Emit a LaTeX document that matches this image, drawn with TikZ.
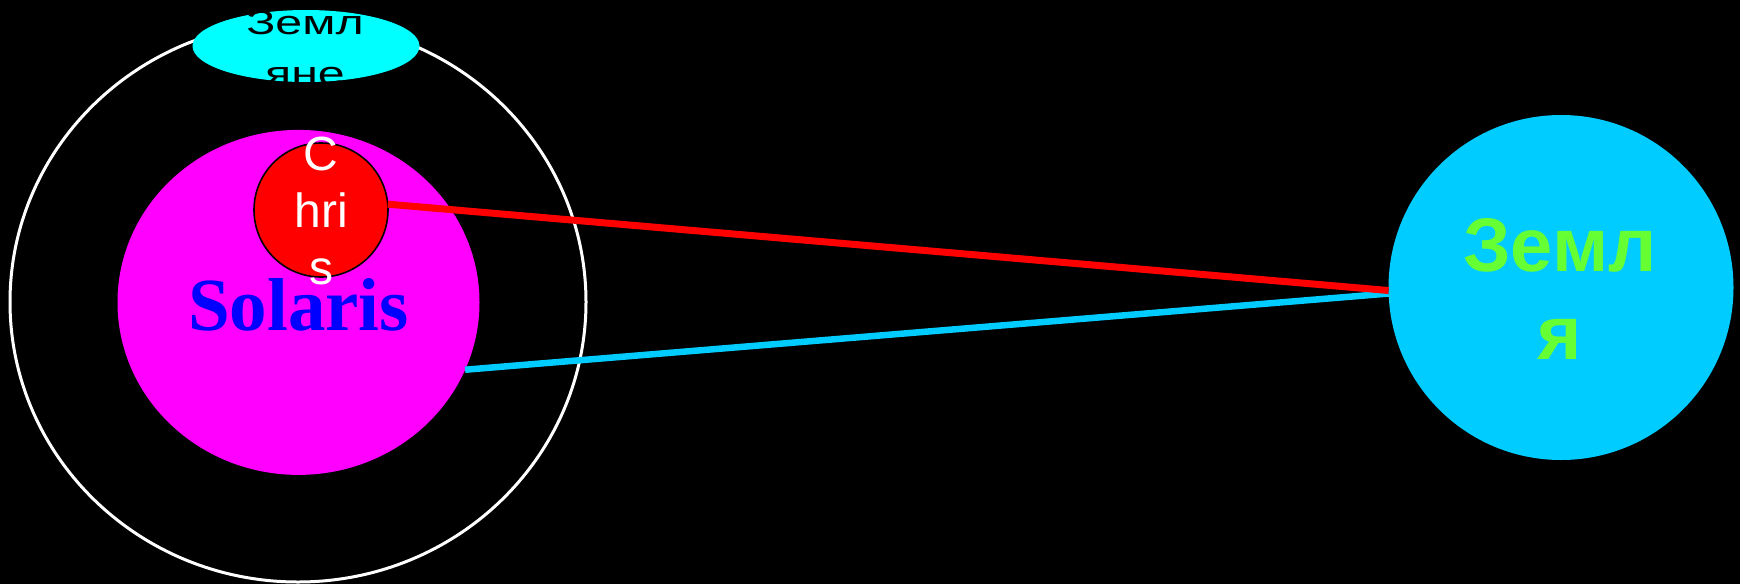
\documentclass[tikz,border=0pt]{standalone}
\usepackage{fontspec}
\setmainfont{Liberation Sans}
\newfontfamily\solfont{Liberation Serif}
\usetikzlibrary{shapes.geometric}
\definecolor{moonc}{HTML}{00FFFF}
\definecolor{solc}{HTML}{FF00FF}
\definecolor{chrisc}{HTML}{FF0000}
\definecolor{earthc}{HTML}{00CCFF}
\definecolor{earthtxt}{HTML}{66FF33}
\definecolor{soltxt}{HTML}{0000FF}
\newcommand{\stk}[2]{\vtop{\hbox to 0pt{\hss #1\hss}\hbox to 0pt{\hss #2\hss}}}
\newcommand{\stkk}[3]{\vtop{\hbox to 0pt{\hss #1\hss}\hbox to 0pt{\hss #2\hss}\hbox to 0pt{\hss #3\hss}}}
\begin{document}
\begin{tikzpicture}[x=1pt,y=-1pt,
  body/.style={inner sep=0pt,outer sep=0pt},
  lbl/.style={inner sep=0pt,outer sep=0pt,anchor=base}]
\fill[black] (0,0) rectangle (1740,584);
\useasboundingbox (0,0) rectangle (1740,584);
% orbit
\node[body,ellipse,draw=white,line width=3pt,minimum width=576pt,minimum height=560pt] (orbit) at (298,302) {};
% moon
\node[body,ellipse,fill=moonc,minimum width=227pt,minimum height=72pt] (moon) at (306,46) {};
\node[lbl,text=black,font=\fontsize{34}{51}\selectfont] (moonlbl) at (305,34) {\scalebox{1.42}[1]{\stk{Земл}{яне}}};
% Solaris
\node[body,ellipse,fill=solc,minimum width=362pt,minimum height=345pt] (sol) at (298.5,302.4) {};
% Chris
\node[body,circle,fill=chrisc,draw=black,line width=1.6pt,minimum size=134pt] (chris) at (321,210) {};
% Earth
\node[body,circle,fill=earthc,minimum size=345pt] (earth) at (1561,287.5) {};
% connectors
\draw[line width=6.5pt,earthc] (sol.-22.4) -- (earth.182.8);
\draw[line width=7pt,chrisc] (chris.5) -- (earth.181.3);
% labels
\node[lbl,text=soltxt,font=\solfont\bfseries\fontsize{75}{80}\selectfont] (sollbl) at (298.5,330) {Solaris};
\node[lbl,text=white,font=\fontsize{48}{57}\selectfont] (chrislbl) at (321,170) {\stkk{C}{hri}{s}};
\node[lbl,text=earthtxt,font=\bfseries\fontsize{76}{87.5}\selectfont] (earthlbl) at (1560,271.7) {\stk{Земл}{я}};
\end{tikzpicture}
\end{document}
